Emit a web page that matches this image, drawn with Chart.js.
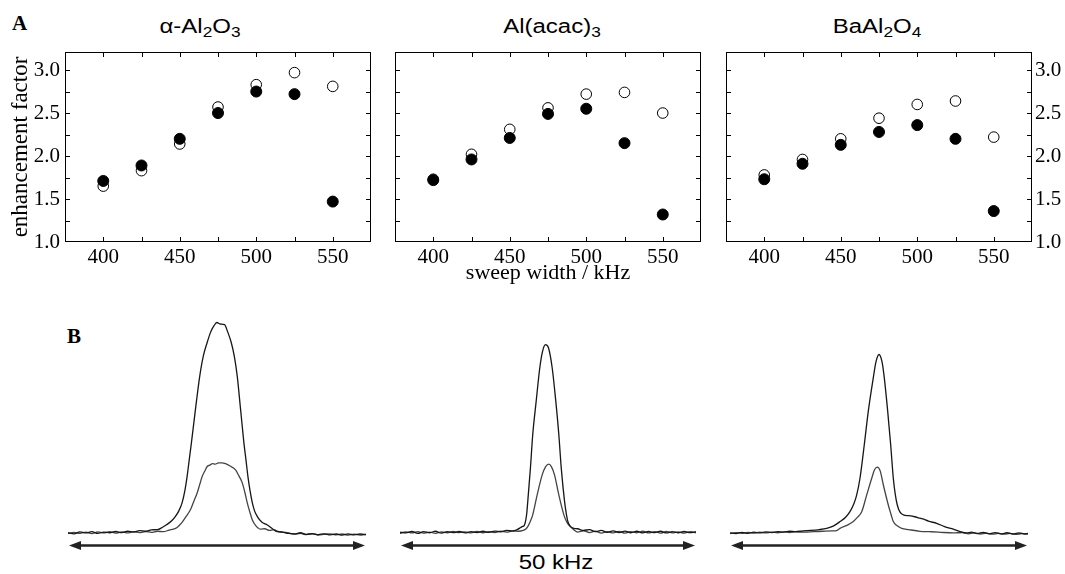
<!doctype html>
<html lang="en">
<head>
<meta charset="utf-8">
<title>Enhancement factor vs sweep width</title>
<style>
  body { margin:0; background:#fff; }
  #page { position:relative; width:1065px; height:574px; overflow:hidden; background:#fff; }
  canvas { position:absolute; }
  .lbl { position:absolute; white-space:nowrap; font-size:20px; line-height:20px; color:#000; }
  .sans { font-family:"Liberation Sans", Arial, sans-serif; transform:translateX(-50%) scaleX(1.2); }
  .panel { font-family:"Liberation Serif", "Times New Roman", serif; font-weight:bold; font-size:21px; line-height:21px; }
  sub { font-size:72%; vertical-align:-0.28em; line-height:0; }
</style>
</head>
<body>
<div id="page">
  <div class="lbl panel" style="left:12px;top:13px">A</div>
  <div class="lbl panel" style="left:67px;top:326px">B</div>
  <div class="lbl sans" style="left:200px;top:16px">α-Al<sub>2</sub>O<sub>3</sub></div>
  <div class="lbl sans" style="left:552px;top:16px">Al(acac)<sub>3</sub></div>
  <div class="lbl sans" style="left:877px;top:16px">BaAl<sub>2</sub>O<sub>4</sub></div>
  <div class="lbl sans" style="left:556px;top:552px">50 kHz</div>

  <canvas id="topAl" width="375" height="290" style="left:0;top:0"></canvas>
  <canvas id="topAcac" width="330" height="290" style="left:375px;top:0"></canvas>
  <canvas id="topBa" width="360" height="290" style="left:705px;top:0"></canvas>

  <canvas id="specAl" width="298" height="242" style="left:68px;top:312px"></canvas>
  <canvas id="specAcac" width="296" height="242" style="left:400px;top:312px"></canvas>
  <canvas id="specBa" width="298" height="242" style="left:730px;top:312px"></canvas>
</div>

<script src="https://cdn.jsdelivr.net/npm/chart.js"></script>
<script>
  // --- panel A: enhancement factor vs sweep width (kHz) ---
  const sweep = [400, 425, 450, 475, 500, 525, 550];
  const alOpen     = [1.65, 1.83, 2.14, 2.57, 2.83, 2.97, 2.81];
  const alFilled   = [1.71, 1.89, 2.20, 2.50, 2.75, 2.72, 1.47];
  const acacOpen   = [1.73, 2.02, 2.31, 2.56, 2.72, 2.74, 2.50];
  const acacFilled = [1.72, 1.96, 2.21, 2.49, 2.55, 2.15, 1.32];
  const baOpen     = [1.78, 1.96, 2.20, 2.44, 2.60, 2.64, 2.22];
  const baFilled   = [1.73, 1.91, 2.13, 2.28, 2.36, 2.20, 1.36];

  const xTicks = [400, 450, 500, 550];
  const yTicks = [1.0, 1.5, 2.0, 2.5, 3.0];
  const xMarks = [400, 425, 450, 475, 500, 525, 550];
  const yMarks = [1.25, 1.5, 1.75, 2.0, 2.25, 2.5, 2.75, 3.0];

  // --- panel B: spectra, [offset kHz, intensity] ---
  const alUpper = [[-25,0.002],[-24,-0.004],[-23,0.005],[-22,0.0],[-21,0.006],[-20,-0.002],[-19,0.004],[-18,0.001],[-17,0.007],[-16,0.002],[-15,0.008],[-14,0.004],[-13,0.011],[-12,0.008],[-11,0.015],[-10,0.016],[-9.2,0.026],[-8.4,0.04],[-7.6,0.058],[-7.0,0.078],[-6.4,0.105],[-5.86,0.143],[-5.4,0.2],[-5.02,0.268],[-4.65,0.35],[-4.29,0.429],[-3.62,0.586],[-2.9,0.744],[-2.3,0.84],[-1.65,0.905],[-1.1,0.952],[-0.5,0.985],[0,1.0],[0.5,0.993],[1.26,0.99],[1.8,0.955],[2.39,0.905],[2.9,0.84],[3.4,0.744],[3.96,0.586],[4.51,0.429],[4.85,0.35],[5.19,0.268],[5.55,0.2],[5.93,0.143],[6.3,0.105],[6.77,0.078],[7.5,0.052],[8.45,0.038],[9.3,0.02],[10.1,0.006],[11,0.004],[12,-0.002],[13,-0.004],[14,0.001],[15,-0.007],[16,-0.003],[17,-0.008],[18,-0.004],[19,-0.009],[20,-0.005],[21,-0.01],[22,-0.004],[23,-0.009],[24,-0.005],[25,-0.008]];
  const alLower = [[-25,-0.003],[-24,0.003],[-23,-0.002],[-22,0.004],[-21,-0.003],[-20,0.005],[-19,0.0],[-18,0.006],[-17,-0.001],[-16,0.005],[-15,0.0],[-14,0.006],[-13,0.002],[-12,0.007],[-11,0.003],[-10,0.008],[-9,0.006],[-8,0.014],[-7.3,0.018],[-6.7,0.026],[-6.2,0.04],[-5.86,0.05],[-5.2,0.078],[-4.46,0.11],[-3.9,0.15],[-3.33,0.19],[-2.9,0.23],[-2.49,0.268],[-2.0,0.297],[-1.65,0.316],[-1.2,0.322],[-0.76,0.329],[-0.3,0.327],[0.25,0.333],[0.8,0.333],[1.43,0.329],[2.2,0.318],[3.11,0.30],[3.7,0.27],[4.24,0.238],[4.7,0.19],[5.08,0.143],[5.5,0.1],[5.93,0.062],[6.5,0.035],[7.32,0.018],[8,0.02],[8.8,0.012],[9.5,0.016],[10.1,0.009],[11,0.004],[12,0.0],[13,-0.006],[14,-0.002],[15,-0.008],[16,-0.004],[17,-0.01],[18,-0.006],[19,-0.004],[20,-0.009],[21,-0.005],[22,-0.01],[23,-0.006],[24,-0.01],[25,-0.006]];

  const acacUpper = [[-25,0.004],[-24,0.0],[-23,0.007],[-22,-0.002],[-21,0.006],[-20,0.001],[-19,0.008],[-18,-0.001],[-17,0.006],[-16,0.002],[-15,0.007],[-14,0.0],[-13,0.006],[-12,0.002],[-11,0.008],[-10,0.003],[-9,0.009],[-8,0.005],[-7,0.012],[-6,0.01],[-5.2,0.016],[-4.6,0.026],[-4.37,0.03],[-4.0,0.036],[-3.81,0.054],[-3.6,0.09],[-3.42,0.149],[-2.97,0.308],[-2.58,0.467],[-2.0,0.625],[-1.39,0.784],[-0.93,0.862],[-0.42,0.895],[0.08,0.88],[0.71,0.784],[1.32,0.625],[1.83,0.467],[2.24,0.308],[2.8,0.149],[3.1,0.09],[3.36,0.054],[3.8,0.03],[4.37,0.022],[5,0.02],[6,0.012],[7,0.016],[8,0.006],[9,0.012],[10,0.003],[11,0.01],[12,0.002],[13,0.009],[14,0.001],[15,0.008],[16,0.0],[17,0.007],[18,0.002],[19,0.008],[20,0.0],[21,0.006],[22,0.001],[23,0.007],[24,0.002],[25,0.006]];
  const acacLower = [[-25,-0.002],[-24,0.005],[-23,0.0],[-22,0.006],[-21,-0.001],[-20,0.004],[-19,-0.002],[-18,0.005],[-17,0.001],[-16,0.007],[-15,0.002],[-14,0.005],[-13,0.0],[-12,0.007],[-11,0.001],[-10,0.006],[-9,0.002],[-8,0.008],[-7,0.004],[-6,0.009],[-5,0.008],[-4.2,0.012],[-3.8,0.018],[-3.42,0.03],[-3.0,0.055],[-2.58,0.086],[-1.83,0.181],[-0.98,0.276],[-0.42,0.314],[0.14,0.327],[0.59,0.314],[1.1,0.276],[1.83,0.181],[2.68,0.086],[3.2,0.05],[3.81,0.03],[4.4,0.014],[5,0.004],[6,0.01],[7,0.002],[8,0.009],[9,-0.001],[10,0.006],[11,0.0],[12,0.007],[13,-0.001],[14,0.006],[15,0.001],[16,0.008],[17,0.0],[18,0.006],[19,-0.001],[20,0.007],[21,0.0],[22,0.005],[23,-0.001],[24,0.006],[25,0.001]];

  const baUpper = [[-25,0.0],[-24,-0.003],[-23,0.003],[-22,-0.002],[-21,0.004],[-20,0.0],[-19,0.005],[-18,0.002],[-17,0.006],[-16,0.004],[-15,0.008],[-14,0.006],[-12.75,0.01],[-11.5,0.012],[-10,0.016],[-8.78,0.022],[-7.6,0.034],[-6.54,0.054],[-5.6,0.075],[-4.87,0.101],[-4.2,0.14],[-3.74,0.181],[-3.19,0.26],[-2.47,0.419],[-1.8,0.578],[-0.96,0.737],[-0.5,0.814],[0,0.848],[0.5,0.814],[0.89,0.737],[1.46,0.578],[1.96,0.419],[2.4,0.26],[2.75,0.18],[3.07,0.133],[3.5,0.1],[4.08,0.086],[5,0.082],[6,0.077],[6.88,0.07],[7.5,0.066],[8.3,0.056],[9.68,0.046],[11,0.03],[12.47,0.018],[13.5,0.008],[14.7,0.0],[15.5,0.004],[16.5,-0.003],[17.5,0.003],[18.5,-0.004],[19.5,0.002],[20.5,-0.004],[21.5,0.001],[22.5,-0.005],[23.5,0.0],[24.5,-0.005],[25,-0.002]];
  const baLower = [[-25,-0.003],[-24,0.002],[-23,-0.002],[-22,0.003],[-21,-0.001],[-20,0.004],[-19,0.0],[-18,0.004],[-17,0.001],[-16,0.005],[-15,0.002],[-14,0.005],[-12.5,0.004],[-11,0.006],[-9.5,0.008],[-8,0.01],[-7.1,0.011],[-6.54,0.022],[-5.4,0.036],[-4.31,0.054],[-3.6,0.075],[-2.9,0.101],[-2.06,0.181],[-1.22,0.26],[-0.75,0.30],[-0.29,0.313],[0.2,0.295],[0.72,0.229],[1.56,0.133],[2.0,0.09],[2.4,0.054],[3.0,0.035],[3.81,0.022],[5,0.016],[6.88,0.008],[8.5,0.006],[10,0.004],[12.47,0.0],[14,0.002],[15,-0.004],[16,0.0],[17,-0.005],[18,-0.001],[19,-0.006],[20,-0.002],[21,-0.006],[22,-0.002],[23,-0.007],[24,-0.003],[25,-0.006]];

  const arrowSpan = [-25, 25];
  const arrowLevel = -0.057;

  Chart.defaults.color = '#000';
  const serif = size => ({ family: '"Liberation Serif", "Times New Roman", serif', size: size, weight: 'normal' });

  // box frame plus inward ticks on all four sides
  const frameTicks = {
    id: 'frameTicks',
    afterDraw(chart) {
      const { ctx, chartArea: a, scales: { x, y } } = chart;
      ctx.save();
      ctx.strokeStyle = '#000';
      ctx.lineWidth = 1;
      ctx.strokeRect(a.left + 0.5, a.top + 0.5, a.right - a.left - 1, a.bottom - a.top - 1);
      ctx.beginPath();
      xMarks.forEach(v => {
        const px = Math.round(x.getPixelForValue(v)) + 0.5;
        ctx.moveTo(px, a.bottom); ctx.lineTo(px, a.bottom - 5);
        ctx.moveTo(px, a.top); ctx.lineTo(px, a.top + 5);
      });
      yMarks.forEach(v => {
        const py = Math.round(y.getPixelForValue(v)) + 0.5;
        ctx.moveTo(a.left, py); ctx.lineTo(a.left + 5, py);
        ctx.moveTo(a.right, py); ctx.lineTo(a.right - 5, py);
      });
      ctx.stroke();
      ctx.restore();
    }
  };

  function topChart(id, filled, open, o) {
    return new Chart(document.getElementById(id), {
      type: 'scatter',
      data: {
        datasets: [
          { data: sweep.map((x, i) => ({ x: x, y: filled[i] })), pointRadius: 5.5, backgroundColor: '#000', borderColor: '#000', borderWidth: 1 },
          { data: sweep.map((x, i) => ({ x: x, y: open[i] })), pointRadius: 5.3, backgroundColor: '#fff', borderColor: '#000', borderWidth: 1 }
        ]
      },
      options: {
        responsive: false,
        animation: false,
        layout: { padding: o.pad, autoPadding: false },
        plugins: { legend: { display: false }, tooltip: { enabled: false } },
        scales: {
          x: {
            type: 'linear', min: 375, max: 575,
            grid: { display: false, drawTicks: false }, border: { display: false },
            afterBuildTicks: s => { s.ticks = xTicks.map(v => ({ value: v })); },
            afterFit: s => { s.height = 48; },
            ticks: { font: serif(21), color: '#000', padding: 3, maxRotation: 0, autoSkip: false },
            title: { display: !!o.xTitle, text: o.xTitle || '', font: serif(22), color: '#000', padding: { top: 0, bottom: 4 } }
          },
          y: {
            type: 'linear', min: 1.0, max: 3.21,
            display: o.yShow, position: o.yPos,
            grid: { display: false, drawTicks: false }, border: { display: false },
            afterBuildTicks: s => { s.ticks = yTicks.map(v => ({ value: v })); },
            afterFit: s => { s.width = o.yWidth; },
            ticks: { font: serif(21), color: '#000', padding: o.yPadTick, autoSkip: false, callback: v => v.toFixed(1) },
            title: { display: !!o.yTitle, text: o.yTitle || '', font: serif(23), color: '#000', padding: { top: 7, bottom: 0 } }
          }
        }
      },
      plugins: [frameTicks]
    });
  }

  topChart('topAl', alFilled, alOpen, { pad: { top: 52, right: 4, left: 0, bottom: 0 }, yShow: true, yPos: 'left', yWidth: 65, yPadTick: 5, yTitle: 'enhancement factor' });
  topChart('topAcac', acacFilled, acacOpen, { pad: { top: 52, right: 4, left: 20, bottom: 0 }, yShow: false, yPos: 'left', yWidth: 0, yPadTick: 5, xTitle: 'sweep width / kHz' });
  topChart('topBa', baFilled, baOpen, { pad: { top: 52, right: 0, left: 21, bottom: 0 }, yShow: true, yPos: 'right', yWidth: 33, yPadTick: 3 });

  // double-headed arrow under each spectrum
  const spanArrow = {
    id: 'spanArrow',
    afterDraw(chart) {
      const { ctx, scales: { x, y } } = chart;
      const x0 = x.getPixelForValue(arrowSpan[0]);
      const x1 = x.getPixelForValue(arrowSpan[1]);
      const py = Math.round(y.getPixelForValue(arrowLevel)) + 0.5;
      ctx.save();
      ctx.strokeStyle = '#222';
      ctx.fillStyle = '#222';
      ctx.lineWidth = 2.5;
      ctx.beginPath();
      ctx.moveTo(x0 + 8, py); ctx.lineTo(x1 - 8, py);
      ctx.stroke();
      ctx.beginPath();
      ctx.moveTo(x0 + 1, py); ctx.lineTo(x0 + 13, py - 4.5); ctx.lineTo(x0 + 13, py + 4.5); ctx.closePath();
      ctx.moveTo(x1 - 1, py); ctx.lineTo(x1 - 13, py - 4.5); ctx.lineTo(x1 - 13, py + 4.5); ctx.closePath();
      ctx.fill();
      ctx.restore();
    }
  };

  function specChart(id, upper, lower) {
    const line = (pts, color) => ({
      data: pts.map(p => ({ x: p[0], y: p[1] })),
      showLine: true, pointRadius: 0, borderColor: color, borderWidth: 1.3,
      cubicInterpolationMode: 'monotone', clip: 4
    });
    return new Chart(document.getElementById(id), {
      type: 'scatter',
      data: { datasets: [line(upper, '#161616'), line(lower, '#444')] },
      options: {
        responsive: false,
        animation: false,
        layout: { padding: 0, autoPadding: false },
        plugins: { legend: { display: false }, tooltip: { enabled: false } },
        scales: {
          x: { type: 'linear', display: false, min: -25, max: 25 },
          y: { type: 'linear', display: false, min: -0.1, max: 1.05 }
        }
      },
      plugins: [spanArrow]
    });
  }

  specChart('specAl', alUpper, alLower);
  specChart('specAcac', acacUpper, acacLower);
  specChart('specBa', baUpper, baLower);
</script>
</body>
</html>
